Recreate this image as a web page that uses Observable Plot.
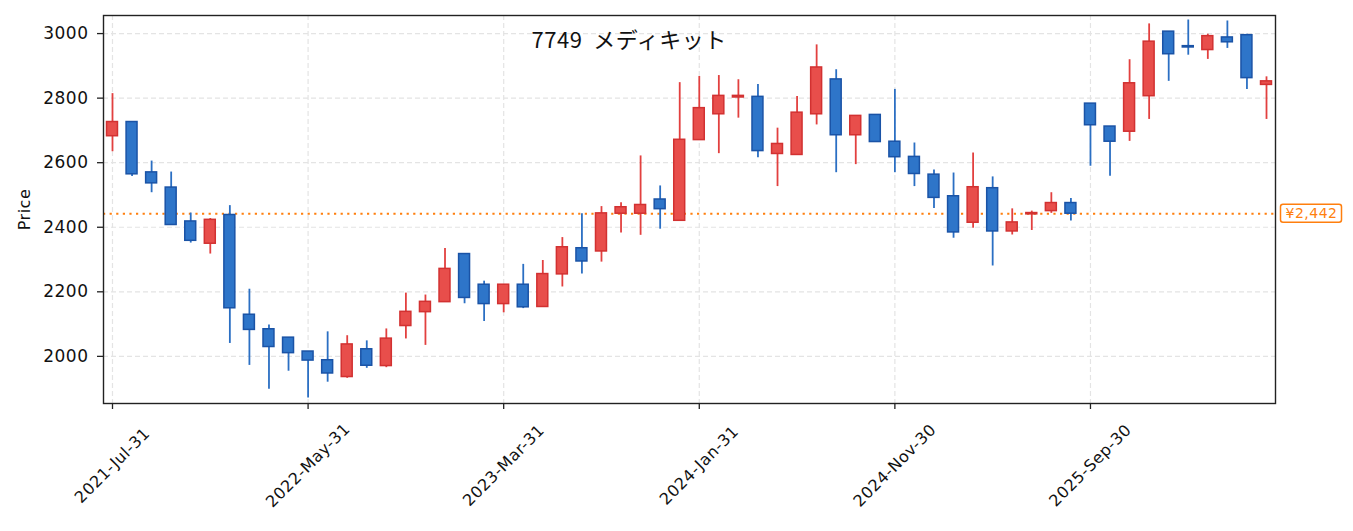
<!DOCTYPE html>
<html>
<head>
<meta charset="utf-8">
<script src="https://cdn.jsdelivr.net/npm/d3@7"></script>
<script src="https://cdn.jsdelivr.net/npm/@observablehq/plot@0.6"></script>
<style>
  html, body { margin: 0; padding: 0; background: #fff; }
  #chart { width: 1353px; height: 531px; }
</style>
</head>
<body>
<div id="chart"></div>
<script>
// ---- data (monthly candles, month-end) ----
const months = [
  "2021-07-31","2021-08-31","2021-09-30","2021-10-31","2021-11-30","2021-12-31",
  "2022-01-31","2022-02-28","2022-03-31","2022-04-30","2022-05-31","2022-06-30",
  "2022-07-31","2022-08-31","2022-09-30","2022-10-31","2022-11-30","2022-12-31",
  "2023-01-31","2023-02-28","2023-03-31","2023-04-30","2023-05-31","2023-06-30",
  "2023-07-31","2023-08-31","2023-09-30","2023-10-31","2023-11-30","2023-12-31",
  "2024-01-31","2024-02-29","2024-03-31","2024-04-30","2024-05-31","2024-06-30",
  "2024-07-31","2024-08-31","2024-09-30","2024-10-31","2024-11-30","2024-12-31",
  "2025-01-31","2025-02-28","2025-03-31","2025-04-30","2025-05-31","2025-06-30",
  "2025-07-31","2025-08-31","2025-09-30","2025-10-31","2025-11-30","2025-12-31",
  "2026-01-31","2026-02-28","2026-03-31","2026-04-30","2026-05-31","2026-06-30"
];
const open  = [2682,2726,2570,2523,2418,2349,2438,2129,2084,2058,2015,1988,
               1936,2022,1970,2094,2137,2168,2317,2222,2162,2222,2153,2254,
               2335,2325,2442,2442,2486,2420,2670,2750,2802,2804,2627,2624,
               2750,2858,2685,2748,2665,2618,2563,2496,2414,2521,2387,2440,
               2450,2475,2783,2712,2696,2806,3006,2961,2949,2988,2995,2841];
const high  = [2814,2726,2605,2571,2444,2427,2467,2208,2097,2058,2015,2076,
               2064,2048,2085,2196,2190,2334,2317,2233,2222,2285,2297,2368,
               2442,2464,2476,2621,2528,2848,2867,2870,2857,2842,2707,2805,
               2965,2888,2745,2748,2827,2661,2577,2568,2630,2556,2457,2450,
               2507,2489,2783,2712,2919,3030,3006,3042,2998,3039,2998,2866];
const low   = [2634,2557,2507,2407,2351,2317,2040,1972,1898,1954,1871,1920,
               1932,1963,1965,2054,2034,2168,2163,2108,2135,2148,2153,2215,
               2255,2292,2382,2375,2394,2420,2670,2628,2738,2615,2526,2624,
               2717,2569,2594,2664,2569,2526,2458,2366,2397,2280,2376,2390,
               2443,2419,2589,2558,2666,2734,2852,2933,2920,2954,2827,2734];
const close = [2726,2564,2536,2407,2358,2423,2149,2082,2029,2010,1987,1947,
               2037,1971,2055,2138,2169,2271,2181,2162,2222,2152,2255,2338,
               2294,2443,2462,2469,2456,2671,2769,2807,2807,2636,2658,2755,
               2895,2685,2745,2664,2617,2565,2491,2384,2524,2387,2415,2444,
               2475,2442,2716,2665,2846,2975,2936,2957,2992,2973,2862,2852];

const tickIdx    = [0, 10, 20, 30, 40, 50];
const tickLabels = ["2021-Jul-31","2022-May-31","2023-Mar-31","2024-Jan-31","2024-Nov-30","2025-Sep-30"];
const yTicks     = [2000, 2200, 2400, 2600, 2800, 3000];
const refPrice   = 2442;
const title      = "7749  メディキット";

// ---- styling ----
const UP_FILL = "#e84e4b", UP_STROKE = "#d23131", UP_WICK = "#e2403f";
const DN_FILL = "#2e75c9", DN_STROKE = "#1a53a6", DN_WICK = "#2b6fc3";
const ORANGE = "#ff7f0e";

const data = months.map((m, i) => ({
  i, m, open: open[i], high: high[i], low: low[i], close: close[i],
  up: close[i] >= open[i]
}));

const gridStyle = {stroke: "#e4e4e4", strokeOpacity: 1, strokeDasharray: "5,3", strokeWidth: 1.2};
const tagText = "¥" + d3.format(",")(refPrice);

const chart = Plot.plot({
  width: 1353,
  height: 531,
  marginLeft: 103,
  marginRight: 78,
  marginTop: 15,
  marginBottom: 128,
  style: {fontFamily: "DejaVu Sans, sans-serif", fontSize: "16px", color: "#222", background: "#fff", letterSpacing: "0.5px"},
  x: {type: "linear", domain: [-0.46, 59.46]},
  y: {domain: [1854, 3056]},
  color: {type: "identity"},
  marks: [
    Plot.gridY(yTicks, gridStyle),
    Plot.gridX(tickIdx, gridStyle),
    Plot.ruleY([refPrice], {stroke: ORANGE, strokeWidth: 2, strokeDasharray: "2.2,4.4"}),
    Plot.ruleX(data, {x: "i", y1: "low", y2: "high", stroke: d => d.up ? UP_WICK : DN_WICK, strokeWidth: 1.8}),
    Plot.rect(data, {
      x1: d => d.i - 0.28, x2: d => d.i + 0.28,
      y1: "open", y2: "close",
      fill: d => d.up ? UP_FILL : DN_FILL,
      stroke: d => d.up ? UP_STROKE : DN_STROKE,
      strokeWidth: 1.5
    }),
    Plot.frame({stroke: "#222", strokeWidth: 1.4}),
    Plot.axisY(yTicks, {tickSize: 6, tickPadding: 9, tickFormat: d3.format("d"), label: null, stroke: "#222", strokeWidth: 1.3, fontSize: 17, fill: "#111"}),
    Plot.axisX(tickIdx, {tickSize: 6, tickFormat: () => "", label: null, stroke: "#222", strokeWidth: 1.3}),
    Plot.text(tickIdx, {
      x: d => d, text: (d, k) => tickLabels[k],
      frameAnchor: "bottom", dy: 62, rotate: -45,
      textAnchor: "middle", lineAnchor: "middle", fontSize: 16, fill: "#111"
    }),
    Plot.text(["Price"], {
      text: d => d, frameAnchor: "left", dx: -79, rotate: -90,
      textAnchor: "middle", lineAnchor: "middle", fontSize: 16, fill: "#111"
    }),
    Plot.text([title], {
      text: d => d, frameAnchor: "top-left", dx: 428, dy: 25,
      textAnchor: "start", lineAnchor: "middle", fontSize: 22,
      fontFamily: "Noto Sans CJK JP, sans-serif", fill: "#111"
    }),
    Plot.text([refPrice], {
      y: d => d, text: () => tagText,
      frameAnchor: "right", dx: 10, textAnchor: "start", lineAnchor: "middle",
      fontSize: 14, fill: ORANGE
    })
  ]
});

document.getElementById("chart").appendChild(chart);

// rounded box around the reference price tag
d3.select(chart).selectAll("text").each(function() {
  if (this.textContent === tagText) {
    const bb = this.getBBox();
    d3.select(this.parentNode).insert("rect", () => this)
      .attr("transform", this.getAttribute("transform"))
      .attr("x", bb.x - 5).attr("y", bb.y - 1)
      .attr("width", bb.width + 9).attr("height", bb.height + 2)
      .attr("rx", 2.5).attr("ry", 2.5)
      .attr("fill", "#fff").attr("stroke", ORANGE).attr("stroke-width", 1.5);
  }
});
</script>
</body>
</html>
